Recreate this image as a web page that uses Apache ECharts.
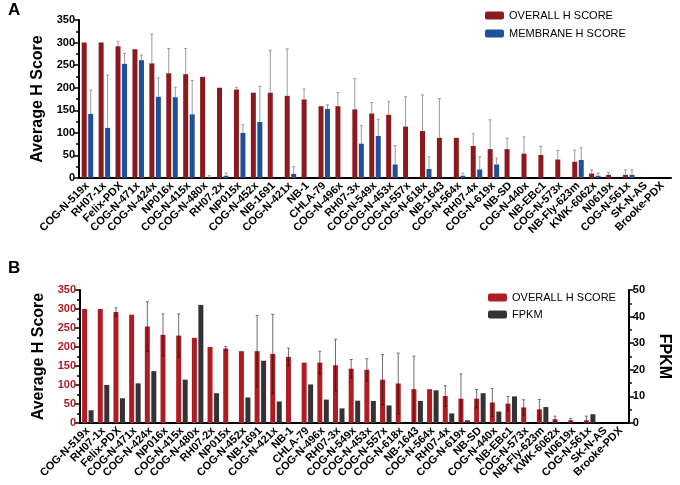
<!DOCTYPE html>
<html>
<head>
<meta charset="utf-8">
<script src="https://cdn.jsdelivr.net/npm/echarts@6/dist/echarts.min.js"></script>
<style>
  html, body { margin: 0; padding: 0; background: #fff; }
  #main { width: 680px; height: 485px; }
</style>
</head>
<body>
<div id="main"></div>
<script>
// sample names (x axis)
var samples = ['COG-N-519x','RH07-1x','Felix-PDX','COG-N-471x','COG-N-424x','NP016x','COG-N-415x','COG-N-480x',
  'RH07-2x','NP015x','COG-N-452x','NB-1691','COG-N-421x','NB-1','CHLA-79','COG-N-496x','RH07-3x','COG-N-549x',
  'COG-N-453x','COG-N-557x','COG-N-618x','NB-1643','COG-N-564x','RH07-4x','COG-N-619x','NB-SD','COG-N-440x',
  'NB-EBc1','COG-N-573x','NB-Fly-623m','KWK-6062x','N0619x','COG-N-561x','SK-N-AS','Brooke-PDX'];

// overall H score + sd
var overallH   = [300,300,292,285,254,232,230,224,200,196,189,189,182,174,159,159,152,143,140,114,104,89,89,71,64,64,54,51,41,36,10,7,7,0,0];
var overallErr = [0,0,11,0,65,55,57,0,0,5,0,94,104,23,0,30,68,24,29,66,80,87,0,27,65,24,37,19,20,26,8,5,11,0,0];

// membrane H score + sd
var membraneH   = [142,111,253,261,180,179,141,0,5,100,124,0,9,0,153,0,76,93,30,0,20,0,5,19,30,0,0,0,0,40,5,0,7,0,0];
var membraneErr = [53,117,23,11,42,22,75,5,6,18,79,0,16,0,9,0,40,37,42,0,27,0,6,28,14,0,0,0,0,27,6,0,11,0,0];

// FPKM
var fpkm = [4.8,14.3,9.3,14.9,19.5,0,16.3,44.4,11.2,0,9.6,23.4,8.1,0,14.5,8.8,5.5,8.4,8.3,6.6,0,8.3,12.3,3.6,1.0,11.2,4.3,10.0,0,6.0,0,0,3.3,0,0];

var hTicks = [0,350,50];   // min, max, step
var fTicks = [0,50,10];

var redA = '#8b1a1e', blueA = '#1f4f99', redB = '#b01c24', greyB = '#333333';
var font = 'Liberation Sans, Arial, sans-serif';

function errData(vals, errs){
  var out = [];
  for (var i = 0; i < vals.length; i++) out.push([i, vals[i], errs[i]]);
  return out;
}

// error whisker; twoSided draws the lower half too (darker, over the bar)
function errItem(offset, color, twoSided){
  return function(params, api){
    var i = api.value(0), v = api.value(1), e = api.value(2);
    if (!e) return;
    var top = api.coord([i, v + e]);
    var mid = api.coord([i, v]);
    var x = top[0] + offset;
    var kids = [
      {type: 'line', shape: {x1: x, y1: top[1], x2: x, y2: mid[1]}, style: {stroke: color, lineWidth: 1}},
      {type: 'line', shape: {x1: x - 1.5, y1: top[1], x2: x + 1.5, y2: top[1]}, style: {stroke: color, lineWidth: 1}}
    ];
    if (twoSided) {
      var bot = api.coord([i, Math.max(v - e, 0)]);
      kids.push({type: 'line', shape: {x1: x, y1: mid[1], x2: x, y2: bot[1]}, style: {stroke: '#4a1010', lineWidth: 1}});
      kids.push({type: 'line', shape: {x1: x - 1.5, y1: bot[1], x2: x + 1.5, y2: bot[1]}, style: {stroke: '#4a1010', lineWidth: 1}});
    }
    return {type: 'group', children: kids};
  };
}

function catAxis(gridIndex){
  return {
    type: 'category', gridIndex: gridIndex, data: samples,
    axisLine: {lineStyle: {color: '#000', width: 2}},
    axisTick: {alignWithLabel: true, length: 5, lineStyle: {color: '#000', width: 1.5}},
    axisLabel: {rotate: 45, interval: 0, margin: 6, color: '#000', fontSize: 11, fontWeight: 'bold', fontFamily: font}
  };
}

function valAxis(gridIndex, t, pos, labelColor, name, nameRot){
  return {
    type: 'value', gridIndex: gridIndex, position: pos,
    min: t[0], max: t[1], interval: t[2],
    name: name, nameLocation: 'middle', nameGap: pos === 'left' ? 33 : 22, nameRotate: nameRot,
    nameTextStyle: {color: '#000', fontSize: 16, fontWeight: 'bold', fontFamily: font},
    axisLine: {show: true, lineStyle: {color: '#000', width: 2}},
    axisTick: {show: true, length: 5, lineStyle: {color: '#000', width: 1.5}},
    minorTick: {show: true, splitNumber: 2, length: 3, lineStyle: {color: '#000', width: 1.5}},
    splitLine: {show: false},
    axisLabel: {color: labelColor, fontSize: 11, fontWeight: 'bold', fontFamily: font, margin: 4}
  };
}

var chart = echarts.init(document.getElementById('main'));
chart.setOption({
  animation: false,
  title: [
    {text: 'A', left: 3, top: -3, textStyle: {fontSize: 17, fontWeight: 'bold', fontFamily: font, color: '#000'}},
    {text: 'B', left: 3, top: 255, textStyle: {fontSize: 17, fontWeight: 'bold', fontFamily: font, color: '#000'}}
  ],
  legend: [
    {data: ['OVERALL H SCORE', 'MEMBRANE H SCORE'], orient: 'vertical', left: 480, top: 5,
     itemWidth: 19, itemHeight: 8, itemGap: 7, icon: 'roundRect',
     textStyle: {fontSize: 11, color: '#000', fontFamily: font}},
    {data: ['OVERALL H SCORE ', 'FPKM'], orient: 'vertical', left: 483, top: 287,
     itemWidth: 19, itemHeight: 8, itemGap: 6, icon: 'roundRect',
     textStyle: {fontSize: 11, color: '#000', fontFamily: font}}
  ],
  grid: [
    {left: 79, right: 9, top: 20, height: 158},
    {left: 80, right: 37, top: 290, height: 133}
  ],
  xAxis: [catAxis(0), catAxis(1)],
  yAxis: [
    valAxis(0, hTicks, 'left', '#000', 'Average H Score', 90),
    valAxis(1, hTicks, 'left', redB, 'Average H Score', 90),
    valAxis(1, fTicks, 'right', '#000', 'FPKM', -90)
  ],
  series: [
    {name: 'OVERALL H SCORE', type: 'bar', xAxisIndex: 0, yAxisIndex: 0, data: overallH,
     barWidth: 5, barGap: '30%', itemStyle: {color: redA}},
    {name: 'MEMBRANE H SCORE', type: 'bar', xAxisIndex: 0, yAxisIndex: 0, data: membraneH,
     barWidth: 5, barGap: '30%', itemStyle: {color: blueA}},
    {type: 'custom', xAxisIndex: 0, yAxisIndex: 0, data: errData(overallH, overallErr),
     renderItem: errItem(-3.25, '#9a9a9a', false), z: 5},
    {type: 'custom', xAxisIndex: 0, yAxisIndex: 0, data: errData(membraneH, membraneErr),
     renderItem: errItem(3.25, '#9a9a9a', false), z: 5},

    {name: 'OVERALL H SCORE ', type: 'bar', xAxisIndex: 1, yAxisIndex: 1, data: overallH,
     barWidth: 5, barGap: '30%', itemStyle: {color: redB}},
    {name: 'FPKM', type: 'bar', xAxisIndex: 1, yAxisIndex: 2, data: fpkm,
     barWidth: 5, barGap: '30%', itemStyle: {color: greyB}},
    {type: 'custom', xAxisIndex: 1, yAxisIndex: 1, data: errData(overallH, overallErr),
     renderItem: errItem(-3.25, '#6e6e6e', true), z: 5}
  ]
});
</script>
</body>
</html>
